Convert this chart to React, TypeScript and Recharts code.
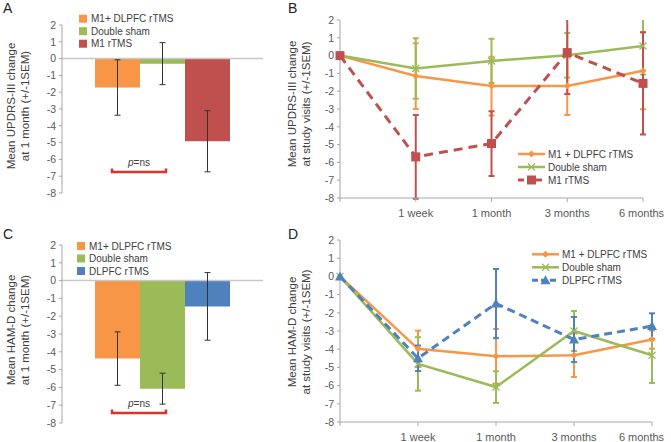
import React from "react";
import {
  BarChart,
  Bar,
  LineChart,
  Line,
  XAxis,
  YAxis,
  ErrorBar,
  ReferenceLine,
} from "recharts";

// shared axis values
const yTicks = [-8, -7, -6, -5, -4, -3, -2, -1, 0, 1, 2];
const timepoints = ["", "1 week", "1 month", "3 months", "6 months"];

// Panel A - UPDRS-III at 1 month
const motorGroups = ["M1+ DLPFC rTMS", "Double sham", "M1 rTMS"];
const motorMonthMean = [-1.72, -0.3, -4.92];
const motorMonthSem = [1.65, 1.25, 1.82];

// Panel B - UPDRS-III over visits
const motorLineNames = ["M1 + DLPFC rTMS", "Double sham", "M1 rTMS"];
const motorComboMean = [0, -1.15, -1.71, -1.71, -0.85];
const motorComboSem = [0, 1.85, 1.65, 1.63, 2.16];
const motorShamMean = [0, -0.72, -0.3, 0.02, 0.54];
const motorShamSem = [0, 1.7, 1.24, 1.25, 1.6];
const motorM1Mean = [0, -5.69, -4.94, 0.17, -1.56];
const motorM1Sem = [0, 2.35, 1.82, 2.33, 2.87];

// Panel C - HAM-D at 1 month
const moodGroups = ["M1+ DLPFC rTMS", "Double sham", "DLPFC rTMS"];
const moodMonthMean = [-4.38, -6.07, -1.45];
const moodMonthSem = [1.5, 0.87, 1.9];

// Panel D - HAM-D over visits
const moodLineNames = ["M1 + DLPFC rTMS", "Double sham", "DLPFC rTMS"];
const moodComboMean = [0, -3.98, -4.39, -4.33, -3.47];
const moodComboSem = [0, 1.0, 1.5, 1.2, 0.5];
const moodShamMean = [0, -4.81, -6.08, -3.0, -4.33];
const moodShamSem = [0, 1.47, 0.87, 1.1, 1.53];
const moodDlpfcMean = [0, -4.5, -1.49, -3.47, -2.73];
const moodDlpfcSem = [0, 0.7, 1.9, 1.24, 0.7];

const ORANGE = "#F79646";
const GREEN = "#9BBB59";
const RED = "#C0504D";
const BLUE = "#4F81BD";
const AXIS = "#A6A6A6";
const TICK = "#595959";
const FONT = "'Liberation Sans', Arial, sans-serif";

const barRow = (mean: number[], sem: number[]) => {
  const row: any = { name: "1 month" };
  mean.forEach((m, i) => {
    row["s" + i] = m;
    row["e" + i] = sem[i];
  });
  return [row];
};

const lineRows = (series: number[][]) =>
  timepoints.map((t, i) => {
    const row: any = { t };
    series.forEach((s, k) => {
      row[(k % 2 === 0 ? "m" : "e") + Math.floor(k / 2)] = s[i];
    });
    return row;
  });

const motorBars = barRow(motorMonthMean, motorMonthSem);
const moodBars = barRow(moodMonthMean, moodMonthSem);
const motorLines = lineRows([
  motorComboMean, motorComboSem, motorShamMean, motorShamSem, motorM1Mean, motorM1Sem,
]);
const moodLines = lineRows([
  moodComboMean, moodComboSem, moodShamMean, moodShamSem, moodDlpfcMean, moodDlpfcSem,
]);

// markers
function marker(kind: string, cx: number, cy: number, color: string, key?: any) {
  if (cx == null || cy == null) return <g key={key} />;
  if (kind === "diamond") {
    const r = 3.5;
    return <path key={key} d={`M${cx},${cy - r}L${cx + r},${cy}L${cx},${cy + r}L${cx - r},${cy}Z`} fill={color} />;
  }
  if (kind === "x") {
    const r = 3.5;
    return (
      <path key={key} d={`M${cx - r},${cy - r}L${cx + r},${cy + r}M${cx - r},${cy + r}L${cx + r},${cy - r}`} stroke={color} strokeWidth={1.3} fill="none" />
    );
  }
  if (kind === "square") {
    const r = 4.5;
    return <rect key={key} x={cx - r} y={cy - r} width={2 * r} height={2 * r} fill={color} />;
  }
  const r = 5;
  return <path key={key} d={`M${cx},${cy - r}L${cx + r},${cy + r * 0.8}L${cx - r},${cy + r * 0.8}Z`} fill={color} />;
}

const dotFn = (kind: string, color: string) => (p: any) => marker(kind, p.cx, p.cy, color, p.index);

function TimeTick(props: any) {
  const { x, y, payload } = props;
  const cx = Math.min(x, 371.5);
  return (
    <text x={cx} y={y} dy="0.71em" textAnchor="middle" fill={TICK} fontSize={11} fontFamily={FONT}>
      {payload.value}
    </text>
  );
}

const yAxisProps = {
  domain: [-8, 2] as [number, number],
  ticks: yTicks,
  interval: 0 as const,
  allowDataOverflow: true,
  tickSize: 3,
  tickMargin: 3,
  axisLine: { stroke: AXIS },
  tickLine: { stroke: AXIS },
  tick: { fill: TICK, fontSize: 10.5, fontFamily: FONT },
};

function BarPanel({ data, colors, top, bottom }: any) {
  return (
    <BarChart
      width={270}
      height={215}
      data={data}
      barSize={45}
      barGap={0}
      margin={{ top, right: 7, bottom, left: 0 }}
    >
      <XAxis dataKey="name" hide />
      <YAxis {...yAxisProps} width={62} />
      <ReferenceLine y={0} stroke="#C8C8C8" strokeWidth={1.5} />
      {colors.map((c: string, i: number) => (
        <Bar key={i} dataKey={"s" + i} fill={c} isAnimationActive={false}>
          <ErrorBar dataKey={"e" + i} width={3} stroke="#333" strokeWidth={1} direction="y" />
        </Bar>
      ))}
    </BarChart>
  );
}

function LinePanel({ data, styles, width, height, top, right, xHeight }: any) {
  return (
    <LineChart width={width} height={height} data={data} margin={{ top, right, bottom: 0, left: 0 }}>
      <XAxis
        dataKey="t"
        scale="point"
        padding={{ left: 0, right: 0 }}
        interval={0}
        height={xHeight}
        tickSize={4}
        tickMargin={7}
        axisLine={{ stroke: AXIS }}
        tickLine={{ stroke: AXIS }}
        tick={<TimeTick />}
      />
      <YAxis {...yAxisProps} width={70} />
      {styles.map((s: any, i: number) => (
        <Line
          key={i}
          type="linear"
          dataKey={"m" + i}
          stroke={s.color}
          strokeWidth={s.dash ? 3 : 2.5}
          strokeDasharray={s.dash}
          dot={dotFn(s.kind, s.color)}
          activeDot={false}
          isAnimationActive={false}
        >
          <ErrorBar dataKey={"e" + i} width={3} stroke={s.color} strokeWidth={2} direction="y" />
        </Line>
      ))}
    </LineChart>
  );
}

const motorStyles = [
  { color: ORANGE, kind: "diamond" },
  { color: GREEN, kind: "x" },
  { color: RED, kind: "square", dash: "9 6" },
];
const moodStyles = [
  { color: ORANGE, kind: "diamond" },
  { color: GREEN, kind: "x" },
  { color: BLUE, kind: "triangle", dash: "8 5" },
];

function YLabel({ x, y, lines }: any) {
  return (
    <g>
      {lines.map((l: string, i: number) => (
        <text
          key={i}
          transform={`translate(${x + i * 14},${y}) rotate(-90)`}
          textAnchor="middle"
          dominantBaseline="central"
          fontSize={11.5}
          fill="#404040"
        >
          {l}
        </text>
      ))}
    </g>
  );
}

function SwatchLegend({ x, y, names, colors }: any) {
  return (
    <g>
      {names.map((n: string, i: number) => (
        <g key={i}>
          <rect x={x} y={y + i * 12.5 - 4} width={8} height={8} fill={colors[i]} />
          <text x={x + 12} y={y + i * 12.5} dominantBaseline="central" fontSize={10} fill="#404040">
            {n}
          </text>
        </g>
      ))}
    </g>
  );
}

function LineLegend({ x, y, names, styles }: any) {
  return (
    <g>
      {names.map((n: string, i: number) => {
        const s = styles[i];
        const cy = y + i * 13;
        return (
          <g key={i}>
            <line x1={x} x2={x + 27} y1={cy} y2={cy} stroke={s.color} strokeWidth={s.dash ? 3 : 2.5} strokeDasharray={s.dash ? "6 3" : undefined} />
            {marker(s.kind, x + 13.5, cy, s.color)}
            <text x={x + 30} y={cy} dominantBaseline="central" fontSize={10} fill="#404040">
              {n}
            </text>
          </g>
        );
      })}
    </g>
  );
}

function Bracket({ x1, x2, y }: any) {
  return (
    <g>
      <path d={`M${x1},${y - 3.5}L${x1},${y}L${x2},${y}L${x2},${y - 3.5}`} stroke="#E0302A" strokeWidth={2.5} fill="none" />
      <text x={(x1 + x2) / 2} y={y - 6} textAnchor="middle" fontSize={10} fill="#404040">
        <tspan fontStyle="italic">p</tspan>=ns
      </text>
    </g>
  );
}

// keep error bars that run past +2 inside the plot, as the original does
const lineClip = (w: number, h: number, top: number) =>
  `polygon(0px 0px, 72px 0px, 72px ${top}px, ${w}px ${top}px, ${w}px ${h}px, 0px ${h}px)`;

export default function App() {
  return (
    <div
      style={{
        position: "absolute",
        left: 0,
        top: 0,
        width: 671,
        height: 442,
        background: "#fff",
        fontFamily: FONT,
        overflow: "hidden",
      }}
    >
      <div style={{ position: "absolute", left: 0, top: 0 }}>
        <BarPanel data={motorBars} colors={[ORANGE, GREEN, RED]} top={25} bottom={22} />
      </div>
      <div style={{ position: "absolute", left: 0, top: 220 }}>
        <BarPanel data={moodBars} colors={[ORANGE, GREEN, BLUE]} top={25} bottom={12} />
      </div>
      <div style={{ position: "absolute", left: 270, top: 0, clipPath: lineClip(401, 225, 20) }}>
        <LinePanel data={motorLines} styles={motorStyles} width={401} height={225} top={20} right={28} xHeight={27} />
      </div>
      <div style={{ position: "absolute", left: 270, top: 220, clipPath: lineClip(401, 222, 20) }}>
        <LinePanel data={moodLines} styles={moodStyles} width={401} height={222} top={20} right={19} xHeight={20} />
      </div>
      <svg
        width={671}
        height={442}
        style={{ position: "absolute", left: 0, top: 0, pointerEvents: "none" }}
        fontFamily={FONT}
      >
        <text x={3} y={13} fontSize={14} fill="#222">A</text>
        <text x={288} y={13} fontSize={14} fill="#222">B</text>
        <text x={3} y={239} fontSize={14} fill="#222">C</text>
        <text x={288} y={239} fontSize={14} fill="#222">D</text>
        <YLabel x={10.5} y={106} lines={["Mean UPDRS-III change", "at 1 month (+/-1SEM)"]} />
        <YLabel x={292} y={104} lines={["Mean UPDRS-III change", "at study visits (+/-1SEM)"]} />
        <YLabel x={10.5} y={330} lines={["Mean HAM-D change", "at 1 month (+/-1SEM)"]} />
        <YLabel x={292} y={332} lines={["Mean HAM-D change", "at study visits (+/-1SEM)"]} />
        <SwatchLegend x={79} y={18.7} names={motorGroups} colors={[ORANGE, GREEN, RED]} />
        <SwatchLegend x={77} y={246} names={moodGroups} colors={[ORANGE, GREEN, BLUE]} />
        <LineLegend x={518} y={154} names={motorLineNames} styles={motorStyles} />
        <LineLegend x={532} y={254.3} names={moodLineNames} styles={moodStyles} />
        <Bracket x1={112} x2={166} y={172} />
        <Bracket x1={112} x2={166} y={413} />
      </svg>
    </div>
  );
}
